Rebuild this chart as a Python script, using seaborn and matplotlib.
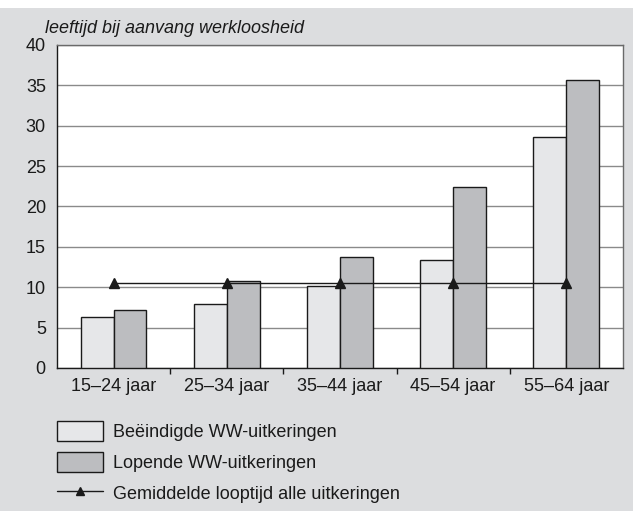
import matplotlib
matplotlib.use("Agg")
import matplotlib.pyplot as plt
from matplotlib.patches import Rectangle, Patch
from matplotlib.lines import Line2D
import seaborn as sns
import pandas as pd

# data
categories = ["15–24 jaar", "25–34 jaar", "35–44 jaar", "45–54 jaar", "55–64 jaar"]
beeindigd = [6.3, 7.9, 10.1, 13.4, 28.6]
lopend = [7.2, 10.8, 13.7, 22.4, 35.7]
gemiddeld = [10.5, 10.5, 10.5, 10.5, 10.5]
series = ["Beëindigde WW-uitkeringen", "Lopende WW-uitkeringen"]
line_label = "Gemiddelde looptijd alle uitkeringen"

df = pd.DataFrame({
    "leeftijd": categories * 2,
    "waarde": beeindigd + lopend,
    "soort": [series[0]] * len(categories) + [series[1]] * len(categories),
})

sns.set_theme(style="white")
plt.rcParams["font.family"] = ["Liberation Sans", "DejaVu Sans"]

bg = "#dcdddf"
light = "#e6e7e9"
dark = "#bcbdc0"
ink = "#1a1a1a"

fig = plt.figure(figsize=(6.33, 5.11), dpi=100, facecolor=bg)
fig.patches.append(Rectangle((0, 1 - 8 / 511), 1, 8 / 511, transform=fig.transFigure,
                             facecolor="white", edgecolor="none", zorder=0))
ax = fig.add_axes([0.090, 0.280, 0.894, 0.632])
ax.set_facecolor("white")

sns.barplot(data=df, x="leeftijd", y="waarde", hue="soort", order=categories,
            hue_order=series, palette=[light, dark], width=0.58,
            edgecolor=ink, linewidth=1, saturation=1, legend=False, ax=ax, zorder=3)

ax.plot(range(len(categories)), gemiddeld, color=ink, lw=1, marker="^",
        markersize=6.5, zorder=4)

ax.set_ylim(0, 40)
ax.set_xlim(-0.5, len(categories) - 0.5)
ax.set_yticks(range(0, 41, 5))
ax.yaxis.grid(True, color="#8a8a8a", lw=1)
ax.set_axisbelow(True)
ax.set_xlabel("")
ax.set_ylabel("")
ax.tick_params(axis="y", length=0, labelsize=13, pad=8, colors=ink)
ax.tick_params(axis="x", length=0, labelsize=13, pad=7, colors=ink)
ax.set_xticks(range(len(categories)))
ax.set_xticklabels(categories)
ax.set_xticks([i + 0.5 for i in range(len(categories) - 1)], minor=True)
ax.tick_params(axis="x", which="minor", bottom=True, length=4, width=1,
               direction="out", color=ink)
for side in ["top", "right"]:
    ax.spines[side].set_color("#6a6a6a")
for side in ["left", "bottom"]:
    ax.spines[side].set_color(ink)
for s in ax.spines.values():
    s.set_linewidth(1)

fig.text(45 / 633, 1 - 33 / 511, "leeftijd bij aanvang werkloosheid", style="italic",
         fontsize=13, color=ink, va="baseline")

handles = [
    Patch(facecolor=light, edgecolor=ink, linewidth=1),
    Patch(facecolor=dark, edgecolor=ink, linewidth=1),
    Line2D([], [], color=ink, lw=1, marker="^", markersize=6),
]
fig.legend(handles, series + [line_label], loc="upper left",
           bbox_to_anchor=(57 / 633, 1 - 421 / 511), frameon=False, fontsize=13,
           borderpad=0, borderaxespad=0, handlelength=2.55, handleheight=1.3,
           labelspacing=0.62, handletextpad=0.55, labelcolor=ink)

fig.savefig("out.png", dpi=100, facecolor=bg)
